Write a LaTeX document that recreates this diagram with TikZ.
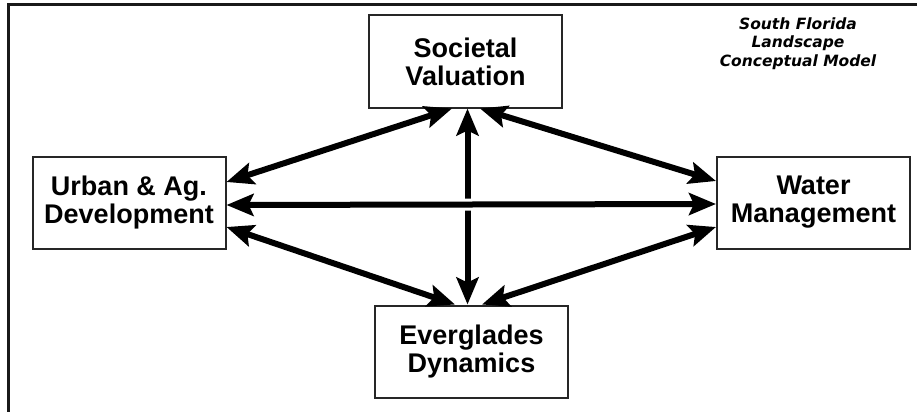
\documentclass[tikz,border=0pt]{standalone}
\usepackage{fontspec}
\setmainfont{Liberation Sans}
\newfontfamily\titlefont{DejaVu Sans}[BoldItalicFont={DejaVu Sans Bold Oblique}]
\usetikzlibrary{arrows.meta}

\begin{document}
\begin{tikzpicture}[x=1pt, y=-1pt,
  main node/.style={rectangle, draw=black!85, line width=2pt, fill=white, minimum width=193pt, minimum height=92pt, inner sep=0pt, align=center, font=\fontsize{27}{28}\selectfont\bfseries},
  both arrow/.style={line width=6pt, {Stealth[length=27pt,width=22pt,inset=5pt]}-{Stealth[length=27pt,width=22pt,inset=5pt]}},
  over/.style={preaction={draw=white, line width=12pt, -, shorten <=40pt, shorten >=40pt}}]
\useasboundingbox (0,0) rectangle (917,412);
% frame
\draw[line width=3.3pt, black!90] (917,4.3) -- (8.3,4.3) -- (8.3,412);
\node [main node](soc) at (465.5,61.5) {Societal\\Valuation};
\node [main node](urb) at (129,202.5) {Urban \& Ag.\\Development};
\node [main node](wat) at (813.5,202.5) {Water\\Management};
\node [main node](evg) at (471.5,351.5) {Everglades\\Dynamics};
\node [font=\titlefont\bfseries\itshape\fontsize{15.5}{18.5}\selectfont, align=center, inner sep=0pt](title) at (798,43.5) {South Florida\\Landscape\\Conceptual Model};
\path [both arrow]
	([yshift=20.5pt]urb.east) edge ([xshift=-13.5pt]soc.south)
	([xshift=14.5pt]soc.south) edge ([yshift=21.5pt]wat.west)
	([xshift=2pt]soc.south) edge ([xshift=-4pt]evg.north)
	([yshift=-24.5pt]urb.east) edge ([xshift=-16.5pt]evg.north)
	([xshift=10.5pt]evg.north) edge ([yshift=-24.5pt]wat.west)
	([yshift=-2.5pt]urb.east) edge[over] ([yshift=-1.5pt]wat.west)
	;
\end{tikzpicture}
\end{document}
